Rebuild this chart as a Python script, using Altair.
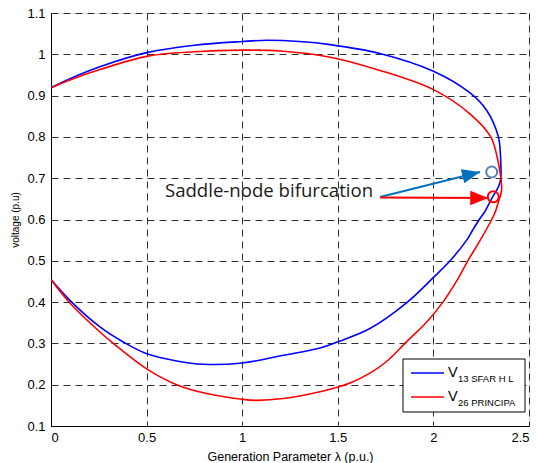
import altair as alt
import pandas as pd

# PV (nose) curves: bus voltage against generation parameter lambda,
# upper branch out to the nose, then the lower branch back to lambda = 0.
lam_13 = [0.000, 0.099, 0.256, 0.500, 0.750, 1.000, 1.130, 1.300, 1.460, 1.720,
          2.000, 2.190, 2.279, 2.340, 2.350, 2.353, 2.353, 2.345, 2.330, 2.310,
          2.270, 2.240, 2.205, 2.174, 2.087, 2.003, 1.864, 1.668, 1.497, 1.407,
          1.215, 1.000, 0.797, 0.657, 0.498, 0.378, 0.256, 0.099, 0.000]
v_13 = [0.919, 0.941, 0.970, 1.004, 1.022, 1.031, 1.034, 1.031, 1.0235, 1.002,
        0.959, 0.907, 0.864, 0.800, 0.760, 0.730, 0.703, 0.685, 0.670, 0.655,
        0.620, 0.600, 0.574, 0.550, 0.500, 0.461, 0.400, 0.336, 0.3034, 0.289,
        0.2712, 0.2526, 0.2494, 0.2574, 0.2753, 0.3034, 0.340, 0.4043, 0.4545]

lam_26 = [0.000, 0.099, 0.256, 0.500, 0.750, 1.000, 1.200, 1.460, 1.720, 2.000,
          2.191, 2.300, 2.334, 2.353, 2.357, 2.352, 2.343, 2.325, 2.305, 2.245,
          2.180, 2.120, 2.050, 1.965, 1.851, 1.760, 1.668, 1.564, 1.497, 1.407,
          1.215, 1.075, 1.000, 0.814, 0.657, 0.498, 0.326, 0.256, 0.099, 0.000]
v_26 = [0.919, 0.938, 0.963, 0.995, 1.006, 1.010, 1.008, 0.993, 0.961, 0.9145,
        0.856, 0.800, 0.750, 0.700, 0.675, 0.660, 0.648, 0.620, 0.600, 0.550,
        0.500, 0.450, 0.400, 0.352, 0.300, 0.258, 0.228, 0.204, 0.194, 0.183,
        0.1664, 0.162, 0.1646, 0.1785, 0.200, 0.239, 0.300, 0.3276, 0.398, 0.4545]

series_names = ["V13 SFAR H L", "V26 PRINCIPA"]
series_colors = ["#0000ff", "#ff0000"]

# Saddle-node bifurcation points and the annotation arrows pointing at them
snb_lam = [2.305, 2.313]
snb_v = [0.715, 0.655]
snb_colors = ["#5a7fb8", "#ff0000"]
arrow_from_lam = [1.721, 1.721]
arrow_from_v = [0.6545, 0.6535]
arrow_to_lam = [2.244, 2.287]
arrow_to_v = [0.715, 0.652]
arrow_angle = [346, 0]
arrow_colors = ["#0070c0", "#ff0000"]
annotation = "Saddle-node bifurcation"
annotation_lam = 0.596
annotation_v = 0.6545

x_ticks = [0, 0.5, 1, 1.5, 2, 2.5]
y_ticks = [0.1, 0.2, 0.3, 0.4, 0.5, 0.6, 0.7, 0.8, 0.9, 1.0, 1.1]

curves = pd.concat([
    pd.DataFrame({"lam": lam_13, "v": v_13, "series": series_names[0],
                  "i": range(len(lam_13))}),
    pd.DataFrame({"lam": lam_26, "v": v_26, "series": series_names[1],
                  "i": range(len(lam_26))}),
])
points = pd.DataFrame({"lam": snb_lam, "v": snb_v, "c": snb_colors})
arrows = pd.DataFrame({"lam": arrow_from_lam, "v": arrow_from_v,
                       "lam2": arrow_to_lam, "v2": arrow_to_v,
                       "ang": arrow_angle, "c": arrow_colors})
note = pd.DataFrame({"lam": [annotation_lam], "v": [annotation_v], "t": [annotation]})

grid_style = dict(grid=True, gridDash=[7, 5], gridColor="#303030", gridWidth=1,
                  ticks=False, domainColor="#000000", domainWidth=1,
                  labelFont="Liberation Sans", labelFontSize=13, labelColor="#000000",
                  titleFont="Liberation Sans", titleFontWeight="normal", titleColor="#000000")

xs = alt.Scale(domain=[0, 2.5], nice=False, zero=False)
ys = alt.Scale(domain=[0.1, 1.1], nice=False, zero=False)

lines = alt.Chart(curves).mark_line(strokeWidth=1.6, clip=True,
                                    interpolate="catmull-rom").encode(
    x=alt.X("lam:Q", scale=xs,
            axis=alt.Axis(values=x_ticks, format="~g", title="Generation Parameter λ (p.u.)",
                          titleFontSize=12.5, titlePadding=6, labelPadding=5, **grid_style)),
    y=alt.Y("v:Q", scale=ys,
            axis=alt.Axis(values=y_ticks, format="~g", title="voltage (p.u)",
                          titleFontSize=10, titlePadding=6, labelPadding=6, **grid_style)),
    color=alt.Color("series:N", scale=alt.Scale(domain=series_names, range=series_colors),
                    legend=None),
    order="i:Q",
)

shafts = alt.Chart(arrows).mark_rule(strokeWidth=2).encode(
    x=alt.X("lam:Q", scale=xs), y=alt.Y("v:Q", scale=ys),
    x2="lam2:Q", y2="v2:Q",
    color=alt.Color("c:N", scale=None),
)

heads = alt.Chart(arrows).mark_point(
    shape="M0,0L-1,-0.4L-1,0.4Z", filled=True, size=1296, opacity=1, strokeWidth=0
).encode(
    x=alt.X("lam2:Q", scale=xs), y=alt.Y("v2:Q", scale=ys),
    angle=alt.Angle("ang:Q", scale=None),
    color=alt.Color("c:N", scale=None),
)

circles = alt.Chart(points).mark_point(
    shape="circle", filled=False, size=121, strokeWidth=2, opacity=1
).encode(
    x=alt.X("lam:Q", scale=xs), y=alt.Y("v:Q", scale=ys),
    color=alt.Color("c:N", scale=None),
)

label = alt.Chart(note).mark_text(
    align="left", baseline="alphabetic", font="Open Sans", fontSize=18.6, color="#1a1a1a"
).encode(x=alt.X("lam:Q", scale=xs), y=alt.Y("v:Q", scale=ys), text="t:N")

# Legend box with subscripted entries
one = pd.DataFrame({"k": [0]})
legend_box = alt.Chart(one).mark_rect(fill="white", stroke="black", strokeWidth=1).encode(
    x=alt.value(352), x2=alt.value(474), y=alt.value(346), y2=alt.value(399))
legend_layers = [legend_box]
for (main, sub), color, y_line in zip([("V", "13 SFAR H L"), ("V", "26 PRINCIPA")],
                                      series_colors, [360, 384]):
    legend_layers.append(alt.Chart(one).mark_rule(color=color, strokeWidth=1.6).encode(
        x=alt.value(360), x2=alt.value(393), y=alt.value(y_line)))
    legend_layers.append(alt.Chart(one).mark_text(
        text=main, align="left", baseline="alphabetic", font="Liberation Sans",
        fontSize=14.5, color="black").encode(x=alt.value(397), y=alt.value(y_line + 4)))
    legend_layers.append(alt.Chart(one).mark_text(
        text=sub, align="left", baseline="alphabetic", font="Liberation Sans",
        fontSize=9.5, color="black").encode(x=alt.value(407), y=alt.value(y_line + 9)))

chart = alt.layer(lines, shafts, heads, circles, label, *legend_layers).properties(
    width=478, height=413,
    padding={"left": 51, "top": 13, "right": 9, "bottom": 37},
    autosize=alt.AutoSizeParams(type="none"),
).configure_view(stroke="black", strokeWidth=1).configure(background="white")

chart.save("out.html", embed_options={"renderer": "svg", "actions": False})
